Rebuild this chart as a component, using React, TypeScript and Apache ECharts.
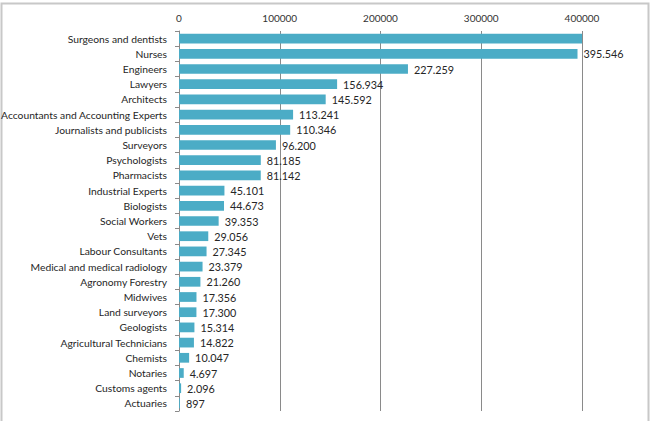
import React, { useEffect, useRef } from "react";
import * as echarts from "echarts";

const categories = [
  "Surgeons and dentists",
  "Nurses",
  "Engineers",
  "Lawyers",
  "Architects",
  "Accountants and Accounting Experts",
  "Journalists and publicists",
  "Surveyors",
  "Psychologists",
  "Pharmacists",
  "Industrial Experts",
  "Biologists",
  "Social Workers",
  "Vets",
  "Labour Consultants",
  "Medical and medical radiology",
  "Agronomy Forestry",
  "Midwives",
  "Land surveyors",
  "Geologists",
  "Agricultural Technicians",
  "Chemists",
  "Notaries",
  "Customs agents",
  "Actuaries",
];

const values = [
  412000, 395546, 227259, 156934, 145592, 113241, 110346, 96200, 81185, 81142,
  45101, 44673, 39353, 29056, 27345, 23379, 21260, 17356, 17300, 15314, 14822,
  10047, 4697, 2096, 897,
];

const xTicks = [0, 100000, 200000, 300000, 400000];

const AXIS_MAX = 400000;

function fmt(v: number): string {
  return String(v).replace(/\B(?=(\d{3})+(?!\d))/g, ".");
}

export default function App() {
  const ref = useRef<HTMLDivElement>(null);
  useEffect(() => {
    document.body.style.margin = "0";
    if (!ref.current) return;
    const chart = echarts.init(ref.current, null, { renderer: "svg" });
    chart.setOption({
      animation: false,
      backgroundColor: "#ffffff",
      textStyle: { fontFamily: "Lato" },
      graphic: [
        {
          type: "rect",
          shape: { x: 1.5, y: 3.5, width: 647, height: 430 },
          style: { fill: "none", stroke: "#c8c8c8", lineWidth: 2 },
          silent: true,
        },
      ],
      grid: {
        left: 179,
        right: 69,
        top: 31,
        bottom: 10,
        containLabel: false,
        outerBoundsMode: "none",
      },
      xAxis: {
        type: "value",
        position: "top",
        min: xTicks[0],
        max: xTicks[xTicks.length - 1],
        interval: xTicks[1] - xTicks[0],
        axisLine: { show: false },
        axisTick: { show: false },
        axisLabel: {
          color: "#333",
          fontSize: 10,
          fontFamily: "Lato",
          margin: 8,
          formatter: (v: number) => String(v),
        },
        splitLine: { show: true, lineStyle: { color: "#8a8a8a", width: 1 } },
      },
      yAxis: {
        type: "category",
        data: categories,
        inverse: true,
        axisLine: { show: true, lineStyle: { color: "#8a8a8a", width: 1 } },
        axisTick: { show: true, length: 4, inside: false, lineStyle: { color: "#8a8a8a" } },
        axisLabel: {
          color: "#262626",
          fontSize: 10.3,
          fontFamily: "Lato",
          margin: 12,
        },
      },
      series: [
        {
          type: "bar",
          data: values,
          barCategoryGap: "36%",
          itemStyle: { color: "#4bacc6" },
          clip: true,
          label: {
            show: true,
            position: "right",
            distance: 6,
            color: "#262626",
            fontSize: 10.8,
            fontFamily: "Lato",
            formatter: (p: any) => (p.value > AXIS_MAX ? "" : fmt(p.value)),
          },
        },
      ],
    });
    return () => chart.dispose();
  }, []);
  return <div ref={ref} style={{ width: 651, height: 421 }} />;
}
